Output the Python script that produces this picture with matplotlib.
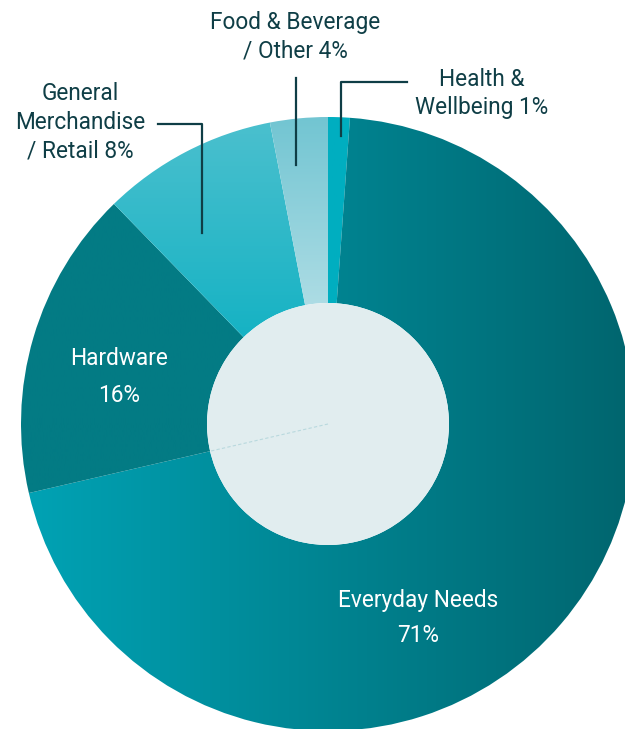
import numpy as np
import matplotlib
matplotlib.use("Agg")
import matplotlib.pyplot as plt
from matplotlib.colors import LinearSegmentedColormap
from matplotlib.patches import Circle

# segment shares (order: clockwise from 12 o'clock)
categories = ["Health & Wellbeing", "Everyday Needs", "Hardware",
              "General Merchandise / Retail", "Food & Beverage / Other"]
shares = [1.14, 70.25, 16.33, 9.25, 3.03]
pct_labels = ["1%", "71%", "16%", "8%", "4%"]

# gradient colour pairs per segment (start, end) and gradient direction
grad_colors = [("#00aec0", "#00aec0"),
               ("#00a3b5", "#00656e"),
               ("#037b84", "#037b84"),
               ("#4cc0ce", "#00adc0"),
               ("#72c5d2", "#d2ebf0")]
grad_dir = ["h", "h", "h", "v", "v"]

W, H = 625, 729
cx, cy = 328, H - 424
r_out, r_in = 307, 121
dark = "#0f3e46"

plt.rcParams['font.family'] = ['Roboto', 'DejaVu Sans']

fig = plt.figure(figsize=(W / 100, H / 100), dpi=100)
ax = fig.add_axes([0, 0, 1, 1])

wedges, _ = ax.pie(shares, startangle=90, counterclock=False, radius=r_out,
                   center=(cx, cy), frame=True,
                   wedgeprops=dict(width=r_out - r_in, linewidth=0))

ax.set_xlim(0, W)
ax.set_ylim(0, H)
ax.set_aspect("equal")
ax.axis("off")

# fill each wedge with a gradient image clipped to the wedge
x0, x1 = cx - r_out, cx + r_out
y0, y1 = cy - r_out, cy + r_out
for w, (c0, c1), d in zip(wedges, grad_colors, grad_dir):
    w.set_facecolor("none")
    cmap = LinearSegmentedColormap.from_list("g", [c0, c1])
    if d == "h":
        grad = np.linspace(0, 1, 256)[None, :]
        ext = (x0, x1, y0, y1)
    else:
        grad = np.linspace(0, 1, 256)[:, None]
        # top of image = outer edge, bottom = inner hole
        ext = (x0, x1, cy, y1)
    im = ax.imshow(grad, cmap=cmap, extent=ext, origin="upper",
                   aspect="auto", zorder=1)
    im.set_clip_path(w)

# inner hole
ax.add_patch(Circle((cx, cy), r_in, facecolor="#e1edef", edgecolor="none", zorder=3))

# faint dashed seam from centre along hardware/everyday boundary
ang = np.deg2rad(90 - 360 * sum(shares[:2]) / 100)
ax.plot([cx, cx + r_in * np.cos(ang)], [cy, cy + r_in * np.sin(ang)],
        color="#b9d9de", lw=0.8, ls=(0, (3, 2)), zorder=4)

fs = 16.3
# inside labels
ax.text(119, H - 358, "Hardware", color="white", fontsize=fs, ha="center", va="center", zorder=5)
ax.text(119, H - 395, pct_labels[2], color="white", fontsize=fs, ha="center", va="center", zorder=5)
ax.text(418, H - 601, "Everyday Needs", color="white", fontsize=fs, ha="center", va="center", zorder=5)
ax.text(418, H - 636, pct_labels[1], color="white", fontsize=fs, ha="center", va="center", zorder=5)

# outside labels
ax.text(295, H - 22, "Food & Beverage", color=dark, fontsize=fs, ha="center", va="center")
ax.text(295, H - 51, "/ Other " + pct_labels[4], color=dark, fontsize=fs, ha="center", va="center")
ax.text(482, H - 79, "Health &", color=dark, fontsize=fs, ha="center", va="center")
ax.text(482, H - 107, "Wellbeing " + pct_labels[0], color=dark, fontsize=fs, ha="center", va="center")
ax.text(80, H - 93, "General", color=dark, fontsize=fs, ha="center", va="center")
ax.text(80, H - 122, "Merchandise", color=dark, fontsize=fs, ha="center", va="center")
ax.text(80, H - 151, "/ Retail " + pct_labels[3], color=dark, fontsize=fs, ha="center", va="center")

# leader lines
lw = 1.6
ax.plot([296, 296], [H - 78, H - 165], color=dark, lw=lw, zorder=6)
ax.plot([407, 341, 341], [H - 82, H - 82, H - 136], color=dark, lw=lw, zorder=6)
ax.plot([158, 202, 202], [H - 124, H - 124, H - 233], color=dark, lw=lw, zorder=6)

fig.savefig("out.png", dpi=100)
